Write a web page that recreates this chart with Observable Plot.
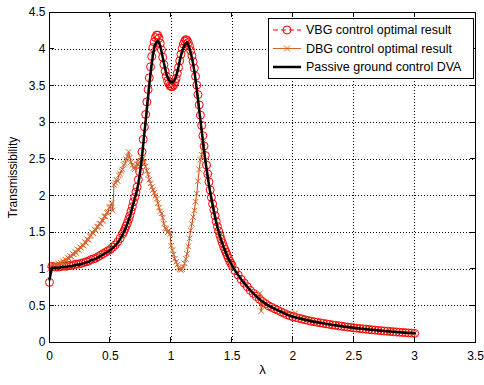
<!DOCTYPE html>
<html>
<head>
<meta charset="utf-8">
<script src="https://cdn.jsdelivr.net/npm/d3@7"></script>
<script src="https://cdn.jsdelivr.net/npm/@observablehq/plot@0.6"></script>
<style>
  html, body { margin: 0; padding: 0; background: #fff; }
</style>
</head>
<body>
<div id="chart"></div>
<script>
// ---------- DATA ----------
const xTicks = [0, 0.5, 1, 1.5, 2, 2.5, 3, 3.5];
const yTicks = [0, 0.5, 1, 1.5, 2, 2.5, 3, 3.5, 4, 4.5];
const seriesNames = ["VBG control optimal result", "DBG control optimal result", "Passive ground control DVA"];

// frequency ratio grid shared by the VBG and passive curves
const lambdaP = [
  0,0.02,0.04,0.06,0.08,0.1,0.12,0.14,0.16,0.18,0.2,0.22,0.24,0.26,0.28,0.3,0.32,0.34,0.36,0.38,0.4,0.42,0.44,0.46,0.48,0.5,0.52,0.54,0.56,0.58,
  0.6,0.61,0.62,0.63,0.64,0.65,0.66,0.67,0.68,0.69,0.7,0.71,0.72,0.73,0.74,0.75,0.76,0.77,0.78,0.79,
  0.8,0.81,0.82,0.83,0.84,0.85,0.86,0.87,0.88,0.89,0.9,0.91,0.92,0.93,0.94,0.95,0.96,0.97,0.98,0.99,
  1,1.01,1.02,1.03,1.04,1.05,1.06,1.07,1.08,1.09,1.1,1.11,1.12,1.13,1.14,1.15,1.16,1.17,1.18,1.19,
  1.2,1.21,1.22,1.23,1.24,1.25,1.26,1.27,1.28,1.29,1.3,1.31,1.32,1.33,1.34,1.35,1.36,1.37,1.38,1.39,
  1.4,1.41,1.42,1.43,1.44,1.45,1.46,1.47,1.48,1.49,1.5,
  1.525,1.55,1.575,1.6,1.625,1.65,1.675,1.7,1.725,1.75,1.775,1.8,1.825,1.85,1.875,1.9,1.925,1.95,1.975,2,
  2.025,2.05,2.075,2.1,2.125,2.15,2.175,2.2,2.225,2.25,2.275,2.3,2.325,2.35,2.375,2.4,2.425,2.45,2.475,2.5,
  2.525,2.55,2.575,2.6,2.625,2.65,2.675,2.7,2.725,2.75,2.775,2.8,2.825,2.85,2.875,2.9,2.925,2.95,2.975,3
];

const passive = [
  0.86,1.02,1.02,1.02,1.02,1.03,1.03,1.03,1.04,1.04,1.05,1.06,1.06,1.07,1.08,1.09,1.10,1.12,1.13,1.14,1.16,1.18,1.20,1.22,1.24,1.26,1.29,1.32,1.36,1.41,
  1.47,1.50,1.54,1.58,1.62,1.67,1.72,1.78,1.84,1.90,1.96,2.02,2.08,2.17,2.27,2.39,2.53,2.70,2.86,3.02,
  3.18,3.35,3.51,3.66,3.80,3.92,4.01,4.07,4.10,4.11,4.09,4.04,3.97,3.89,3.81,3.74,3.67,3.62,3.58,3.56,
  3.55,3.55,3.56,3.59,3.63,3.69,3.76,3.84,3.91,3.97,4.02,4.06,4.08,4.09,4.06,4.01,3.95,3.88,3.80,3.70,
  3.58,3.45,3.31,3.17,3.03,2.89,2.75,2.62,2.49,2.37,2.26,2.15,2.05,1.96,1.87,1.79,1.71,1.64,1.57,1.51,
  1.45,1.40,1.35,1.30,1.26,1.22,1.18,1.14,1.11,1.08,1.05,
  0.98,0.92,0.86,0.81,0.76,0.71,0.67,0.63,0.59,0.56,0.53,0.50,0.48,0.46,0.44,0.42,0.40,0.38,0.365,0.35,
  0.34,0.33,0.32,0.31,0.30,0.29,0.283,0.276,0.268,0.261,0.254,0.247,0.240,0.234,0.228,0.222,0.216,0.210,0.205,0.200,
  0.195,0.190,0.186,0.182,0.177,0.173,0.169,0.165,0.161,0.157,0.154,0.150,0.147,0.143,0.140,0.137,0.134,0.131,0.128,0.125
];

const vbg = [
  0.82,1.04,1.03,1.03,1.03,1.04,1.04,1.04,1.05,1.05,1.06,1.07,1.07,1.08,1.09,1.10,1.11,1.13,1.14,1.15,1.17,1.19,1.21,1.23,1.25,1.27,1.30,1.33,1.37,1.42,
  1.48,1.51,1.55,1.59,1.63,1.68,1.73,1.79,1.85,1.92,1.98,2.05,2.12,2.22,2.33,2.46,2.60,2.77,2.94,3.11,
  3.28,3.45,3.61,3.76,3.90,4.02,4.10,4.16,4.19,4.19,4.15,4.08,3.99,3.89,3.79,3.70,3.63,3.57,3.53,3.50,
  3.49,3.49,3.51,3.55,3.60,3.67,3.75,3.84,3.93,4.01,4.07,4.11,4.13,4.12,4.09,4.04,3.98,3.91,3.83,3.74,
  3.63,3.51,3.38,3.24,3.10,2.96,2.82,2.68,2.55,2.42,2.30,2.19,2.08,1.98,1.89,1.81,1.73,1.65,1.58,1.52,
  1.46,1.41,1.36,1.31,1.27,1.23,1.19,1.15,1.11,1.08,1.05,
  0.98,0.92,0.86,0.81,0.76,0.71,0.67,0.63,0.59,0.56,0.53,0.50,0.48,0.46,0.44,0.42,0.40,0.38,0.365,0.35,
  0.34,0.33,0.32,0.31,0.30,0.29,0.283,0.276,0.268,0.261,0.254,0.247,0.240,0.234,0.228,0.222,0.216,0.210,0.205,0.200,
  0.195,0.190,0.186,0.182,0.177,0.173,0.169,0.165,0.161,0.157,0.154,0.150,0.147,0.143,0.140,0.137,0.134,0.131,0.128,0.125
];

const lambdaD = [
  0,0.01,0.02,0.03,0.04,0.05,0.06,0.07,0.08,0.09,0.1,0.11,0.12,0.13,0.14,0.15,0.16,0.17,0.18,0.19,
  0.2,0.21,0.22,0.23,0.24,0.25,0.26,0.27,0.28,0.29,0.3,0.31,0.32,0.33,0.34,0.35,0.36,0.37,0.38,0.39,
  0.4,0.41,0.42,0.43,0.44,0.45,0.46,0.47,0.48,0.49,0.5,0.51,0.52,0.53,0.54,0.55,0.56,0.57,0.58,0.59,
  0.6,0.61,0.62,0.63,0.64,0.65,0.66,0.67,0.68,0.69,0.7,0.71,0.72,0.73,0.74,0.75,0.76,0.77,0.78,0.79,
  0.8,0.81,0.82,0.83,0.84,0.85,0.86,0.87,0.88,0.89,0.9,0.91,0.92,0.93,0.94,0.95,0.96,0.97,0.98,0.99,
  1,1.01,1.02,1.03,1.04,1.05,1.06,1.07,1.08,1.09,1.1,1.11,1.12,1.13,1.14,1.15,1.16,1.17,1.18,1.19,
  1.2,1.21,1.22,1.23,1.24,1.25,1.26,
  1.3,1.4,1.5,1.6,1.72,1.73,1.74,1.75,1.9,2.02,2.2,2.5,2.8,3
];

const dbg = [
  1.00,1.04,1.02,1.05,1.03,1.06,1.04,1.08,1.05,1.09,1.07,1.11,1.09,1.13,1.12,1.16,1.14,1.18,1.17,1.21,
  1.20,1.24,1.22,1.27,1.26,1.30,1.29,1.33,1.32,1.37,1.36,1.41,1.40,1.45,1.46,1.50,1.49,1.54,1.53,1.58,
  1.58,1.62,1.62,1.67,1.66,1.72,1.72,1.77,1.78,1.84,1.85,1.90,1.80,2.15,2.18,2.22,2.20,2.28,2.30,2.34,
  2.36,2.42,2.44,2.50,2.54,2.60,2.52,2.46,2.42,2.38,2.36,2.40,2.44,2.42,2.47,2.48,2.50,2.51,2.46,2.40,
  2.34,2.29,2.22,2.17,2.12,2.08,2.04,2.00,1.96,1.90,1.84,1.79,1.76,1.70,1.62,1.56,1.55,1.50,1.53,1.48,
  1.32,1.26,1.20,1.14,1.10,1.06,1.02,1.00,0.99,1.00,1.03,1.08,1.14,1.21,1.31,1.42,1.53,1.62,1.71,1.80,
  1.92,2.03,2.20,2.36,2.49,2.56,2.72,
  2.26,1.45,1.05,0.81,0.60,0.67,0.43,0.56,0.42,0.40,0.276,0.20,0.15,0.125
];

// ---------- TABLES ----------
const pData = lambdaP.map((l, i) => ({l, v: passive[i]}));
const vData = lambdaP.map((l, i) => ({l, v: vbg[i]}));
const dData = lambdaD.map((l, i) => ({l, v: dbg[i]}));

const colVBG = "#ff0000";
const colDBGLine = "#bc4016";
const colDBGMark = "#d8642a";
const font = "'Liberation Sans', Arial, Helvetica, sans-serif";

const chart = Plot.plot({
  width: 484,
  height: 385,
  marginLeft: 49,
  marginRight: 9,
  marginTop: 12,
  marginBottom: 43,
  style: {fontFamily: font, fontSize: "12px", color: "#000", background: "#fff"},
  x: {domain: [0, 3.5]},
  y: {domain: [0, 4.5]},
  marks: [
    Plot.gridX(xTicks, {stroke: "#000", strokeOpacity: 1, strokeWidth: 1, strokeDasharray: "1,2", shapeRendering: "crispEdges"}),
    Plot.gridY(yTicks, {stroke: "#000", strokeOpacity: 1, strokeWidth: 1, strokeDasharray: "1,2", shapeRendering: "crispEdges"}),
    // VBG
    Plot.line(vData, {x: "l", y: "v", stroke: colVBG, strokeWidth: 0.8, strokeDasharray: "4,3"}),
    Plot.dot(vData, {x: "l", y: "v", r: 4, stroke: colVBG, fill: "none", strokeWidth: 1}),
    // DBG
    Plot.line(dData, {x: "l", y: "v", stroke: colDBGLine, strokeWidth: 1}),
    Plot.dot(dData, {x: "l", y: "v", symbol: "times", r: 2.6, stroke: colDBGMark, strokeWidth: 1}),
    // Passive
    Plot.line(pData, {x: "l", y: "v", stroke: "#000", strokeWidth: 2.5}),
    Plot.frame({stroke: "#000", strokeWidth: 1}),
    // axes: labels
    Plot.axisX(xTicks, {tickSize: 0, tickPadding: 9, label: null, tickFormat: d => String(d), fill: "#000"}),
    Plot.axisY(yTicks, {tickSize: 0, tickPadding: 4, label: null, tickFormat: d => String(d), fill: "#000"}),
    // axis titles
    Plot.text(["Transmissibility"], {frameAnchor: "left", dx: -36, rotate: -90, textAnchor: "middle", fill: "#000", fontSize: 12}),
    Plot.text(["λ"], {frameAnchor: "bottom", dy: 31, textAnchor: "middle", fill: "#000", fontSize: 13})
  ]
});

document.getElementById("chart").appendChild(chart);

// ---------- INWARD TICKS (positions from Plot's own scales) ----------
const sx = chart.scale("x"), sy = chart.scale("y");
const svg = d3.select(chart);
const [rx0, rx1] = sx.range, [ry0, ry1] = sy.range; // ry0 = bottom, ry1 = top
const tg = svg.append("g").attr("stroke", "#000").attr("stroke-width", 1).attr("shape-rendering", "crispEdges");
xTicks.forEach(t => {
  const x = sx.apply(t);
  tg.append("line").attr("x1", x).attr("x2", x).attr("y1", ry0).attr("y2", ry0 - 5);
  tg.append("line").attr("x1", x).attr("x2", x).attr("y1", ry1).attr("y2", ry1 + 5);
});
yTicks.forEach(t => {
  const y = sy.apply(t);
  tg.append("line").attr("x1", rx0).attr("x2", rx0 + 5).attr("y1", y).attr("y2", y);
  tg.append("line").attr("x1", rx1).attr("x2", rx1 - 5).attr("y1", y).attr("y2", y);
});

// ---------- LEGEND ----------
const lg = svg.append("g").attr("font-family", font).attr("font-size", 12.5).attr("text-anchor", "start");
lg.append("rect").attr("x", 268.5).attr("y", 18.5).attr("width", 205).attr("height", 60)
  .attr("fill", "#fff").attr("stroke", "#000").attr("stroke-width", 1);
const rowY = [30, 48.5, 67];
const lx0 = 273, lx1 = 301, lmid = 287;
// VBG row
lg.append("line").attr("x1", lx0).attr("x2", lx1).attr("y1", rowY[0]).attr("y2", rowY[0])
  .attr("stroke", colVBG).attr("stroke-width", 1).attr("stroke-dasharray", "5,3");
lg.append("circle").attr("cx", lmid).attr("cy", rowY[0]).attr("r", 4)
  .attr("fill", "none").attr("stroke", colVBG);
// DBG row
lg.append("line").attr("x1", lx0).attr("x2", lx1).attr("y1", rowY[1]).attr("y2", rowY[1])
  .attr("stroke", colDBGMark).attr("stroke-width", 1);
lg.append("path").attr("d", `M${lmid-3},${rowY[1]-3}L${lmid+3},${rowY[1]+3}M${lmid-3},${rowY[1]+3}L${lmid+3},${rowY[1]-3}`)
  .attr("stroke", colDBGMark).attr("stroke-width", 1);
// Passive row
lg.append("line").attr("x1", lx0).attr("x2", lx1).attr("y1", rowY[2]).attr("y2", rowY[2])
  .attr("stroke", "#000").attr("stroke-width", 2.5);
seriesNames.forEach((name, i) => {
  lg.append("text").attr("x", 306).attr("y", rowY[i]).attr("dy", "0.35em")
    .attr("fill", "#000").attr("text-anchor", "start").text(name);
});
</script>
</body>
</html>
